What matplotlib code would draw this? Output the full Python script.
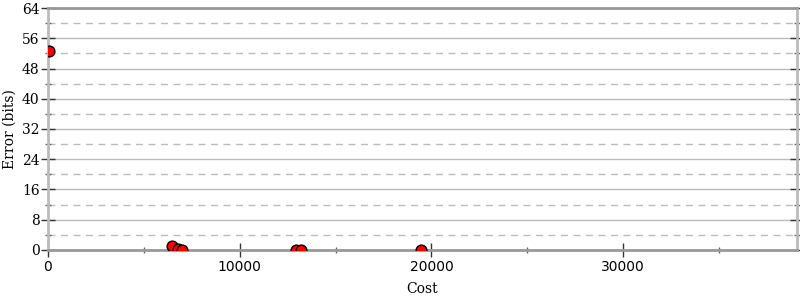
import matplotlib
matplotlib.use("Agg")
import matplotlib.pyplot as plt
from matplotlib.ticker import MultipleLocator

cost = [50, 6470, 6780, 6990, 12940, 13200, 19460]
error = [52.6, 1.0, 0.3, 0.1, 0.1, 0.1, 0.1]
y_ticks = [0, 8, 16, 24, 32, 40, 48, 56, 64]
x_ticks = [0, 10000, 20000, 30000]

fig = plt.figure(figsize=(8, 3), dpi=100)
ax = fig.add_axes([0.06, 0.1667, 0.93625, 0.8066])

ax.set_xlim(0, 39070)
ax.set_ylim(0, 64)

ax.set_yticks(y_ticks)
ax.yaxis.set_minor_locator(MultipleLocator(4))
ax.set_xticks(x_ticks)
ax.xaxis.set_minor_locator(MultipleLocator(5000))

ax.grid(which="major", axis="y", color="#bbbbbb", linewidth=1, linestyle="-")
ax.grid(which="minor", axis="y", color="#bbbbbb", linewidth=1, linestyle=(0, (5, 4)))
ax.set_axisbelow(True)

ax.scatter(cost, error, s=60, c="red", edgecolors="black", linewidths=1, zorder=3, clip_on=True)

for s in ["top", "bottom"]:
    ax.spines[s].set_color("#999999")
    ax.spines[s].set_linewidth(2)
for s in ["left", "right"]:
    ax.spines[s].set_color("#bbbbbb")
    ax.spines[s].set_linewidth(2)

ax.tick_params(which="major", direction="inout", length=10, width=1, color="#333333",
               left=True, right=True, bottom=True, top=False, pad=2)
ax.tick_params(axis="y", which="major", pad=1)
ax.tick_params(which="minor", direction="inout", length=5, width=1, color="#666666",
               left=True, right=True, bottom=True, top=False)

for lab in ax.get_yticklabels():
    lab.set_family("DejaVu Serif")
    lab.set_fontsize(10)
for lab in ax.get_xticklabels():
    lab.set_family("DejaVu Sans")
    lab.set_fontsize(10)

ax.set_xlabel("Cost", family="DejaVu Serif", fontsize=10, labelpad=6)
ax.set_ylabel("Error (bits)", family="DejaVu Serif", fontsize=10, labelpad=4)

fig.savefig("out.png", dpi=100)
